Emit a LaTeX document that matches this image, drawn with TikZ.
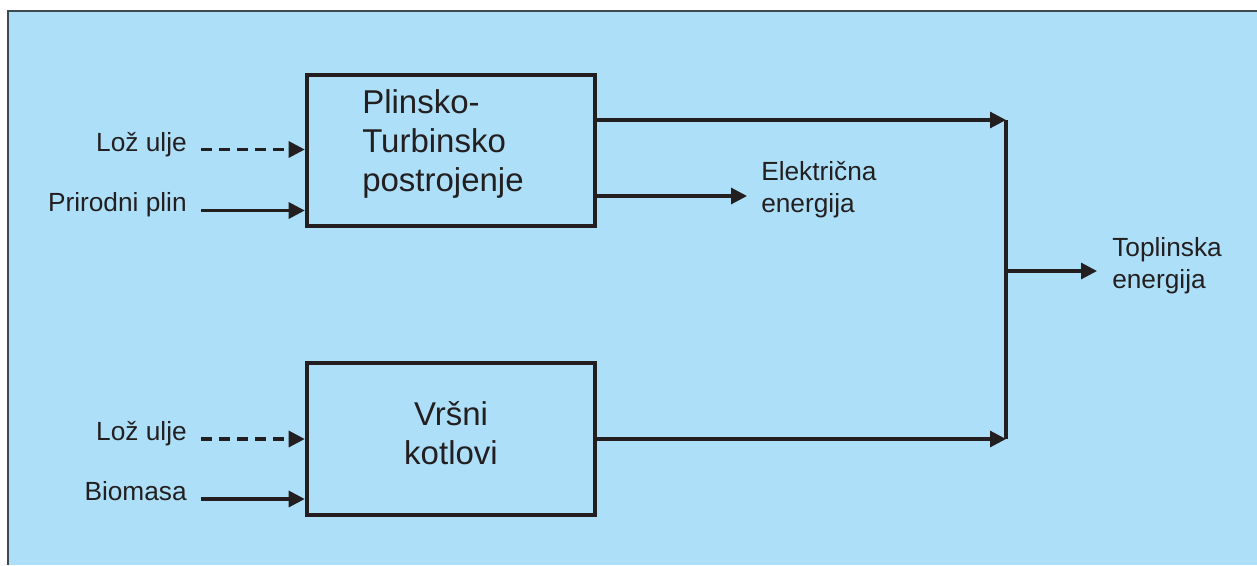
\documentclass[tikz,border=0pt]{standalone}
\usepackage{fontspec}
\setmainfont{Liberation Sans}
\usetikzlibrary{arrows.meta}
\definecolor{panel}{HTML}{ADE0F8}
\definecolor{ink}{HTML}{231F20}
\definecolor{frame}{HTML}{3E4A50}

\begin{document}
\begin{tikzpicture}[x=0.75pt,y=-0.75pt,
  block/.style={draw=ink,line width=3pt,minimum width=216.4pt,minimum height=113.5pt,inner sep=0pt},
  flow/.style={draw=ink,line width=2.3pt,-{Triangle[length=12pt,width=12pt]}},
  fuel/.style={flow,dash pattern=on 8.5pt off 5pt},
  bus/.style={draw=ink,line width=2.7pt},
  tag/.style={font=\fontsize{19.7pt}{23.5pt}\selectfont,text=ink,inner sep=0pt},
  boxtext/.style={font=\fontsize{24.75pt}{29.25pt}\selectfont,text=ink,inner sep=0pt}
]
\useasboundingbox (0,0) rectangle (1257,565);

% background panel with its top and left frame
\fill[panel] (8,11) rectangle (1257,565);
\draw[frame,line width=1.2pt] (8,565) -- (8,11) -- (1257,11);

% the two plants (base anchor = baseline of the last text line)
\node[block] (tb) at (451,150.5) {};
\node[block,minimum height=114pt] (bb) at (451,439) {};
\node[boxtext,anchor=base west,align=left] (tbt) at (362,191) {Plinsko-\\Turbinsko\\postrojenje};
\node[boxtext,anchor=base,align=center] (bbt) at (451,464) {Vršni\\kotlovi};

% fuel inputs
\coordinate (i1) at (201,149.5);
\coordinate (i2) at (201,210.5);
\coordinate (i3) at (201,439);
\coordinate (i4) at (201,499);
\node[tag,anchor=base east] (l1) at (187,151.5) {Lož ulje};
\node[tag,anchor=base east] (l2) at (187,211.5) {Prirodni plin};
\node[tag,anchor=base east] (l3) at (187,440.5) {Lož ulje};
\node[tag,anchor=base east] (l4) at (187,500.5) {Biomasa};
\draw[fuel] (i1) -- (i1 -| tb.west);
\draw[flow] (i2) -- (i2 -| tb.west);
\draw[fuel] (i3) -- (i3 -| bb.west);
\draw[flow] (i4) -- (i4 -| bb.west);

% outputs
\coordinate (jt) at (1006,120);
\coordinate (jb) at (1006,439);
\coordinate (jm) at (1006,271);
\coordinate (tp) at (1097,271);
\coordinate (ee) at (747,196);
\draw[flow] (tb.east |- jt) -- (jt);
\draw[flow] (bb.east |- jb) -- (jb);
\draw[flow] (tb.east |- ee) -- (ee);
\draw[bus] (jt) -- (jb);
\draw[flow] (jm) -- (tp);
\node[tag,anchor=base west,align=left] (el) at (761,212) {Električna\\energija};
\node[tag,anchor=base west,align=left] (tl) at (1112,288) {Toplinska\\energija};
\end{tikzpicture}
\end{document}
